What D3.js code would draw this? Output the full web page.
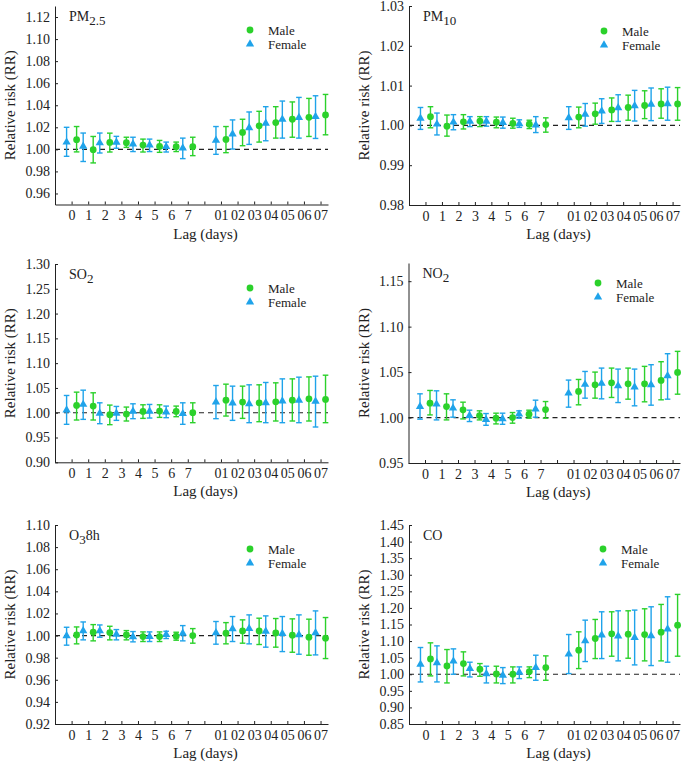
<!DOCTYPE html>
<html>
<head>
<meta charset="utf-8">
<script src="https://cdn.jsdelivr.net/npm/d3@7"></script>
<style>
body { margin: 0; background: #fff; }
svg text { font-family: "Liberation Serif", "Times New Roman", serif; fill: #222; }
</style>
</head>
<body>
<script>

// x categories: lag 0..7, an empty slot, then cumulative lags 01..07
var lagLabels = ["0", "1", "2", "3", "4", "5", "6", "7", "", "01", "02", "03", "04", "05", "06", "07"];

// [RR, lower 95% CI, upper 95% CI] for each lag (no entry for the empty slot)
var pm25Female = [[1.0065,0.9937,1.0200],[1.0027,0.9890,1.0148],[1.0058,0.9967,1.0148],[1.0063,1.0010,1.0118],[1.0048,0.9980,1.0110],[1.0039,0.9980,1.0093],[1.0024,0.9976,1.0066],[1.0012,0.9916,1.0102],
    [1.0081,0.9955,1.0207],[1.0138,1.0003,1.0267],[1.0195,1.0045,1.0339],[1.0237,1.0078,1.0387],[1.0273,1.0102,1.0438],[1.0288,1.0102,1.0471],[1.0297,1.0099,1.0486]];
var pm25Male = [[1.0088,0.9977,1.0207],[0.9997,0.9877,1.0117],[1.0063,0.9976,1.0147],[1.0060,1.0018,1.0110],[1.0039,0.9976,1.0093],[1.0027,0.9973,1.0081],[1.0024,0.9980,1.0066],[1.0024,0.9943,1.0110],
    [1.0090,0.9970,1.0207],[1.0153,1.0033,1.0273],[1.0213,1.0066,1.0345],[1.0243,1.0102,1.0387],[1.0273,1.0110,1.0430],[1.0291,1.0117,1.0462],[1.0312,1.0132,1.0498]];

var pm10Female = [[1.0018,0.9990,1.0045],[1.0003,0.9976,1.0031],[1.0008,0.9989,1.0027],[1.0010,0.9997,1.0022],[1.0010,0.9998,1.0022],[1.0007,0.9993,1.0021],[1.0004,0.9995,1.0014],[1.0001,0.9982,1.0022],
    [1.0019,0.9990,1.0047],[1.0028,0.9998,1.0055],[1.0036,1.0005,1.0067],[1.0044,1.0010,1.0077],[1.0049,1.0011,1.0088],[1.0053,1.0012,1.0094],[1.0054,1.0013,1.0096]];
var pm10Male = [[1.0022,0.9994,1.0047],[0.9998,0.9973,1.0026],[1.0009,0.9991,1.0027],[1.0011,0.9997,1.0022],[1.0008,0.9994,1.0021],[1.0005,0.9993,1.0018],[1.0003,0.9992,1.0013],[1.0002,0.9983,1.0019],
    [1.0021,0.9994,1.0046],[1.0029,1.0003,1.0056],[1.0039,1.0010,1.0069],[1.0045,1.0013,1.0076],[1.0050,1.0017,1.0087],[1.0054,1.0018,1.0092],[1.0054,1.0013,1.0095]];

var so2Female = [[1.0054,0.9766,1.0348],[1.0167,0.9866,1.0455],[0.9987,0.9779,1.0200],[0.9987,0.9846,1.0127],[1.0027,0.9880,1.0180],[1.0027,0.9893,1.0167],[1.0013,0.9900,1.0134],[0.9980,0.9766,1.0200],
    [1.0214,0.9880,1.0549],[1.0194,0.9846,1.0536],[1.0181,0.9799,1.0563],[1.0201,0.9799,1.0610],[1.0234,0.9799,1.0683],[1.0248,0.9799,1.0717],[1.0228,0.9712,1.0737]];
var so2Male = [[1.0147,0.9853,1.0415],[1.0134,0.9853,1.0402],[0.9960,0.9759,1.0154],[0.9973,0.9833,1.0114],[1.0027,0.9886,1.0160],[1.0033,0.9906,1.0160],[1.0027,0.9920,1.0134],[1.0000,0.9799,1.0200],
    [1.0254,0.9933,1.0576],[1.0214,0.9886,1.0536],[1.0201,0.9819,1.0563],[1.0221,0.9833,1.0603],[1.0254,0.9833,1.0683],[1.0281,0.9833,1.0723],[1.0268,0.9799,1.0757]];

var no2Female = [[1.0121,0.9982,1.0261],[1.0147,0.9974,1.0294],[1.0103,1.0004,1.0195],[1.0022,0.9956,1.0081],[0.9978,0.9915,1.0044],[0.9985,0.9926,1.0048],[1.0037,0.9993,1.0074],[1.0092,1.0004,1.0191],
    [1.0268,1.0114,1.0412],[1.0364,1.0213,1.0507],[1.0375,1.0206,1.0544],[1.0349,1.0165,1.0533],[1.0335,1.0129,1.0533],[1.0360,1.0136,1.0581],[1.0460,1.0202,1.0702]];
var no2Male = [[1.0158,1.0029,1.0298],[1.0121,0.9974,1.0261],[1.0085,0.9985,1.0169],[1.0022,0.9974,1.0074],[0.9993,0.9930,1.0048],[1.0000,0.9938,1.0055],[1.0037,0.9993,1.0081],[1.0088,0.9993,1.0176],
    [1.0287,1.0140,1.0419],[1.0360,1.0213,1.0500],[1.0382,1.0221,1.0544],[1.0371,1.0202,1.0544],[1.0371,1.0173,1.0563],[1.0408,1.0195,1.0614],[1.0496,1.0257,1.0728]];

var o3Female = [[0.9997,0.9913,1.0075],[1.0042,0.9961,1.0123],[1.0042,0.9985,1.0096],[1.0012,0.9961,1.0054],[0.9988,0.9943,1.0036],[0.9991,0.9946,1.0033],[1.0009,0.9973,1.0039],[1.0021,0.9952,1.0090],
    [1.0024,0.9922,1.0127],[1.0060,0.9946,1.0172],[1.0063,0.9925,1.0187],[1.0039,0.9895,1.0178],[1.0018,0.9855,1.0172],[1.0006,0.9831,1.0187],[1.0024,0.9825,1.0223]];
var o3Male = [[1.0006,0.9925,1.0078],[1.0030,0.9952,1.0099],[1.0027,0.9961,1.0084],[1.0006,0.9961,1.0045],[0.9991,0.9946,1.0033],[0.9991,0.9946,1.0033],[0.9994,0.9958,1.0030],[1.0000,0.9931,1.0063],
    [1.0021,0.9925,1.0117],[1.0042,0.9931,1.0142],[1.0042,0.9919,1.0157],[1.0024,0.9895,1.0154],[1.0003,0.9849,1.0151],[0.9985,0.9822,1.0148],[0.9976,0.9792,1.0163]];

var coFemale = [[1.0302,0.9768,1.0806],[1.0342,0.9768,1.0856],[1.0393,1.0000,1.0765],[1.0171,0.9919,1.0363],[1.0010,0.9738,1.0242],[0.9970,0.9718,1.0201],[1.0060,0.9869,1.0222],[1.0201,0.9819,1.0574],
    [1.0604,1.0020,1.1198],[1.1007,1.0383,1.1631],[1.1178,1.0473,1.1883],[1.1148,1.0403,1.1913],[1.1108,1.0282,1.1934],[1.1158,1.0262,1.2034],[1.1359,1.0363,1.2336]];
var coMale = [[1.0463,0.9950,1.0947],[1.0252,0.9738,1.0745],[1.0322,0.9950,1.0675],[1.0151,0.9940,1.0322],[1.0010,0.9738,1.0242],[1.0000,0.9738,1.0222],[1.0081,0.9899,1.0222],[1.0201,0.9819,1.0554],
    [1.0725,1.0171,1.1279],[1.1078,1.0473,1.1652],[1.1219,1.0544,1.1883],[1.1208,1.0483,1.1913],[1.1198,1.0403,1.1974],[1.1269,1.0403,1.2105],[1.1480,1.0544,1.2407]];

// y tick values per panel
var pm25Ticks = [0.96, 0.98, 1.00, 1.02, 1.04, 1.06, 1.08, 1.10, 1.12];
var pm10Ticks = [0.98, 0.99, 1.00, 1.01, 1.02, 1.03];
var so2Ticks = [0.90, 0.95, 1.00, 1.05, 1.10, 1.15, 1.20, 1.25, 1.30];
var no2Ticks = [0.95, 1.00, 1.05, 1.10, 1.15];
var o3Ticks = [0.92, 0.94, 0.96, 0.98, 1.00, 1.02, 1.04, 1.06, 1.08, 1.10];
var coTicks = [0.85, 0.90, 0.95, 1.00, 1.05, 1.10, 1.15, 1.20, 1.25, 1.30, 1.35, 1.40, 1.45];

var maleColour = "#2bd12b";
var femaleColour = "#1fa3ea";

var svg = d3.select("body").append("svg")
    .attr("width", 685)
    .attr("height", 763)
    .attr("font-family", "'Liberation Serif', 'Times New Roman', serif");

// slot index of every data point (skip the empty slot)
var slots = lagLabels.map((d, i) => i).filter(i => lagLabels[i] != "");

var panels = [
    { name: "PM", sub: "2.5", after: "", male: pm25Male, female: pm25Female, ticks: pm25Ticks, domain: [0.95, 1.13],
      left: 55, right: 328, top: 6, bottom: 204.5, legend: [250, 30] },
    { name: "PM", sub: "10", after: "", male: pm10Male, female: pm10Female, ticks: pm10Ticks, domain: [0.98, 1.03],
      left: 409, right: 680, top: 6, bottom: 205, legend: [604, 31] },
    { name: "SO", sub: "2", after: "", male: so2Male, female: so2Female, ticks: so2Ticks, domain: [0.90, 1.30],
      left: 55, right: 328, top: 264, bottom: 462.3, legend: [250, 288] },
    { name: "NO", sub: "2", after: "", male: no2Male, female: no2Female, ticks: no2Ticks, domain: [0.95, 1.17],
      left: 408.5, right: 680, top: 263, bottom: 463, legend: [598, 283] },
    { name: "O", sub: "3", after: "8h", male: o3Male, female: o3Female, ticks: o3Ticks, domain: [0.92, 1.10],
      left: 55, right: 328, top: 525, bottom: 724, legend: [250, 549] },
    { name: "CO", sub: "", after: "", male: coMale, female: coFemale, ticks: coTicks, domain: [0.85, 1.45],
      left: 409, right: 680, top: 525, bottom: 724, legend: [603, 549] }
];

panels.forEach(p => {

    var g = svg.append("g");

    var x = d3.scaleLinear()
        .domain([-1, lagLabels.length - 0.55])
        .range([p.left, p.right]);

    var y = d3.scaleLinear()
        .domain(p.domain)
        .range([p.bottom, p.top]);

    // y axis, ticks pointing inward
    var yAxis = d3.axisLeft(y)
        .tickValues(p.ticks)
        .tickSizeInner(-3)
        .tickSizeOuter(0)
        .tickPadding(5)
        .tickFormat(d3.format(".2f"));

    g.append("g")
        .attr("transform", `translate(${p.left},0)`)
        .call(yAxis)
        .attr("font-family", null)
        .call(a => a.selectAll("text").style("font-size", "14px"));

    // x axis, one tick per slot
    var xAxis = d3.axisBottom(x)
        .tickValues(d3.range(lagLabels.length))
        .tickSizeInner(-3)
        .tickSizeOuter(0)
        .tickPadding(6)
        .tickFormat(i => lagLabels[i]);

    g.append("g")
        .attr("transform", `translate(0,${p.bottom})`)
        .call(xAxis)
        .attr("font-family", null)
        .call(a => a.selectAll("text").style("font-size", "14px"));

    g.selectAll(".domain").attr("stroke", "#222");
    g.selectAll(".tick line").attr("stroke", "#222");

    // reference line at RR = 1
    g.append("line")
        .attr("x1", p.left)
        .attr("x2", p.right)
        .attr("y1", y(1))
        .attr("y2", y(1))
        .attr("stroke", "#222")
        .attr("stroke-width", 1.2)
        .attr("stroke-dasharray", "5,4");

    // error bars + markers, female left of the slot, male right
    var series = [
        { data: p.female, colour: femaleColour, shift: -5, shape: d3.symbolTriangle },
        { data: p.male, colour: maleColour, shift: 5, shape: d3.symbolCircle }
    ];

    series.forEach(s => {
        var pts = s.data.map((d, i) => ({ cx: x(slots[i]) + s.shift, rr: d[0], lo: d[1], hi: d[2] }));

        var bars = g.append("g")
            .attr("stroke", s.colour)
            .attr("stroke-width", 1.4)
            .attr("fill", "none");

        bars.selectAll("line.ci")
            .data(pts)
            .enter()
            .append("line")
            .attr("class", "ci")
            .attr("x1", d => d.cx).attr("x2", d => d.cx)
            .attr("y1", d => y(d.lo)).attr("y2", d => y(d.hi));

        bars.selectAll("line.capHi")
            .data(pts)
            .enter()
            .append("line")
            .attr("class", "capHi")
            .attr("x1", d => d.cx - 2.8).attr("x2", d => d.cx + 2.8)
            .attr("y1", d => y(d.hi)).attr("y2", d => y(d.hi));

        bars.selectAll("line.capLo")
            .data(pts)
            .enter()
            .append("line")
            .attr("class", "capLo")
            .attr("x1", d => d.cx - 2.8).attr("x2", d => d.cx + 2.8)
            .attr("y1", d => y(d.lo)).attr("y2", d => y(d.lo));

        g.selectAll("path.mark" + s.shift)
            .data(pts)
            .enter()
            .append("path")
            .attr("class", "mark" + s.shift)
            .attr("d", d3.symbol().type(s.shape).size(s.shape == d3.symbolCircle ? 36 : 30))
            .attr("transform", d => `translate(${d.cx},${y(d.rr)})`)
            .attr("fill", s.colour);
    });

    // pollutant name with subscript
    var title = g.append("text")
        .attr("x", p.left + 14)
        .attr("y", p.top + 15)
        .style("font-size", "14px")
        .text(p.name);
    if (p.sub) {
        title.append("tspan")
            .attr("dy", 4)
            .style("font-size", "13px")
            .text(p.sub);
    }
    if (p.after) {
        title.append("tspan")
            .attr("dy", -4)
            .text(p.after);
    }

    // legend
    var legendItems = [
        { label: "Male", colour: maleColour, shape: d3.symbolCircle, size: 36 },
        { label: "Female", colour: femaleColour, shape: d3.symbolTriangle, size: 30 }
    ];
    legendItems.forEach((l, i) => {
        g.append("path")
            .attr("d", d3.symbol().type(l.shape).size(l.size))
            .attr("transform", `translate(${p.legend[0]},${p.legend[1] + i * 14})`)
            .attr("fill", l.colour);
        g.append("text")
            .attr("x", p.legend[0] + 18)
            .attr("y", p.legend[1] + i * 14 + 4.5)
            .style("font-size", "13px")
            .text(l.label);
    });

    // axis titles
    g.append("text")
        .attr("transform", `translate(${p.left - 40},${(p.top + p.bottom) / 2}) rotate(-90)`)
        .attr("text-anchor", "middle")
        .style("font-size", "15px")
        .text("Relative risk (RR)");

    g.append("text")
        .attr("x", (p.left + p.right) / 2 + 14)
        .attr("y", p.bottom + 34)
        .attr("text-anchor", "middle")
        .style("font-size", "15px")
        .text("Lag (days)");
});

</script>
</body>
</html>
